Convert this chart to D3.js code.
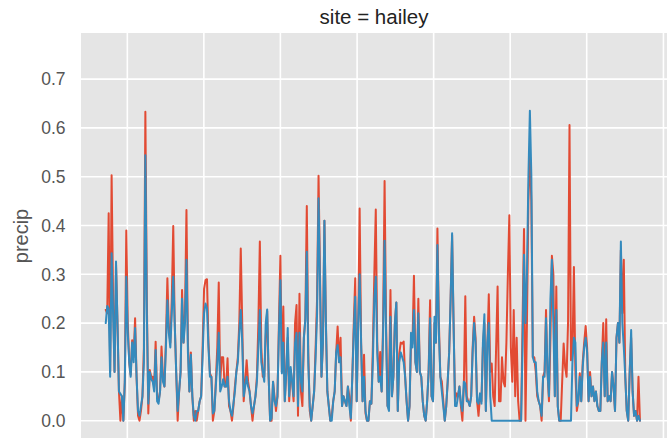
<!DOCTYPE html>
<html>
<head>
<meta charset="utf-8">
<script src="https://cdn.jsdelivr.net/npm/d3@7"></script>
<style>
  html, body { margin: 0; padding: 0; background: #ffffff; overflow: hidden; }
  svg { display: block; }
</style>
</head>
<body>
<svg id="chart" width="667" height="438"></svg>
<script>
// Weekly precipitation at the "hailey" site, two series.
const titleText = "site = hailey";
const yLabelText = "precip";
const firstWeek = new Date(2009, 8, 20);
const weekStepDays = 7;
const yTickValues = [0.0, 0.1, 0.2, 0.3, 0.4, 0.5, 0.6, 0.7];

const precipA = [
  0.227,0.220,0.425,0.100,0.503,0.250,0.100,0.320,0.200,0.060,
  0.000,0.050,0.000,0.080,0.390,0.200,0.120,0.094,0.165,0.130,
  0.210,0.090,0.010,0.000,0.020,0.050,0.150,0.633,0.250,0.015,
  0.104,0.090,0.090,0.070,0.162,0.050,0.040,0.060,0.152,0.090,
  0.070,0.165,0.292,0.190,0.160,0.250,0.399,0.200,0.100,0.000,
  0.060,0.100,0.268,0.160,0.220,0.432,0.160,0.060,0.140,0.050,
  0.000,0.020,0.000,0.020,0.040,0.050,0.150,0.270,0.288,0.290,
  0.160,0.097,0.090,0.000,0.020,0.080,0.150,0.283,0.080,0.130,
  0.130,0.070,0.070,0.128,0.030,0.020,0.000,0.030,0.070,0.100,
  0.130,0.200,0.353,0.200,0.040,0.080,0.124,0.080,0.060,0.030,
  0.000,0.030,0.050,0.090,0.200,0.367,0.150,0.090,0.090,0.170,
  0.225,0.090,0.000,0.000,0.080,0.050,0.020,0.050,0.200,0.338,
  0.100,0.234,0.040,0.100,0.170,0.040,0.104,0.080,0.040,0.200,
  0.237,0.010,0.260,0.060,0.030,0.170,0.210,0.440,0.140,0.020,
  0.000,0.030,0.060,0.150,0.250,0.502,0.300,0.090,0.160,0.410,
  0.200,0.060,0.030,0.000,0.010,0.040,0.060,0.140,0.193,0.120,
  0.170,0.030,0.050,0.040,0.030,0.070,0.050,0.000,0.090,0.200,
  0.292,0.040,0.200,0.435,0.160,0.040,0.135,0.015,0.000,0.000,
  0.040,0.035,0.150,0.300,0.433,0.160,0.080,0.141,0.060,0.200,
  0.491,0.200,0.030,0.077,0.268,0.050,0.090,0.200,0.242,0.020,
  0.138,0.160,0.158,0.162,0.090,0.040,0.000,0.030,0.160,0.158,
  0.297,0.120,0.100,0.250,0.100,0.090,0.040,0.010,0.000,0.040,
  0.100,0.247,0.050,0.040,0.200,0.160,0.394,0.200,0.090,0.080,
  0.040,0.000,0.030,0.080,0.140,0.250,0.380,0.200,0.040,0.056,
  0.050,0.070,0.030,0.000,0.070,0.255,0.050,0.040,0.030,0.050,
  0.150,0.213,0.170,0.040,0.010,0.050,0.040,0.150,0.200,0.020,
  0.150,0.259,0.100,0.117,0.050,0.030,0.150,0.275,0.040,0.040,
  0.130,0.080,0.070,0.160,0.300,0.421,0.150,0.080,0.227,0.050,
  0.170,0.040,0.000,0.000,0.200,0.393,0.000,0.200,0.450,0.550,
  0.450,0.130,0.130,0.100,0.050,0.040,0.030,0.000,0.090,0.100,
  0.227,0.100,0.040,0.170,0.338,0.300,0.050,0.275,0.030,0.000,
  0.000,0.080,0.158,0.110,0.090,0.200,0.606,0.124,0.140,0.315,
  0.100,0.020,0.040,0.097,0.040,0.120,0.160,0.194,0.150,0.040,
  0.100,0.050,0.070,0.040,0.060,0.030,0.020,0.020,0.120,0.200,
  0.050,0.208,0.040,0.050,0.040,0.100,0.070,0.020,0.170,0.200,
  0.160,0.350,0.220,0.330,0.090,0.020,0.000,0.100,0.170,0.060,
  0.010,0.020,0.000,0.090,0.000
];

const precipB = [
  0.200,0.235,0.230,0.090,0.343,0.220,0.100,0.326,0.200,0.060,
  0.055,0.050,0.000,0.080,0.295,0.180,0.120,0.090,0.160,0.120,
  0.190,0.090,0.020,0.010,0.030,0.050,0.120,0.544,0.220,0.035,
  0.100,0.085,0.080,0.060,0.145,0.040,0.035,0.060,0.130,0.080,
  0.070,0.150,0.247,0.180,0.150,0.220,0.295,0.200,0.100,0.020,
  0.060,0.100,0.250,0.160,0.200,0.330,0.140,0.060,0.135,0.050,
  0.010,0.000,0.020,0.020,0.040,0.050,0.130,0.220,0.240,0.230,
  0.150,0.090,0.090,0.015,0.020,0.070,0.120,0.180,0.060,0.070,
  0.085,0.070,0.070,0.090,0.040,0.020,0.010,0.035,0.060,0.100,
  0.120,0.180,0.227,0.160,0.050,0.070,0.090,0.070,0.060,0.030,
  0.015,0.030,0.050,0.080,0.150,0.227,0.120,0.100,0.080,0.200,
  0.228,0.090,0.000,0.005,0.080,0.040,0.030,0.050,0.180,0.288,
  0.097,0.160,0.040,0.100,0.190,0.050,0.110,0.080,0.050,0.160,
  0.180,0.030,0.180,0.080,0.060,0.170,0.206,0.346,0.120,0.030,
  0.000,0.030,0.060,0.130,0.220,0.456,0.280,0.090,0.160,0.410,
  0.200,0.060,0.030,0.000,0.000,0.040,0.060,0.140,0.155,0.120,
  0.130,0.030,0.050,0.040,0.030,0.070,0.030,0.005,0.090,0.180,
  0.254,0.040,0.200,0.300,0.160,0.040,0.090,0.020,0.000,0.000,
  0.040,0.035,0.120,0.250,0.295,0.140,0.080,0.090,0.060,0.180,
  0.369,0.180,0.030,0.020,0.213,0.050,0.090,0.200,0.242,0.020,
  0.120,0.140,0.130,0.120,0.090,0.040,0.000,0.030,0.180,0.150,
  0.227,0.120,0.100,0.220,0.100,0.090,0.040,0.010,0.000,0.040,
  0.100,0.210,0.050,0.040,0.213,0.160,0.360,0.180,0.090,0.060,
  0.030,0.000,0.030,0.080,0.140,0.250,0.384,0.200,0.030,0.030,
  0.050,0.070,0.035,0.020,0.080,0.076,0.040,0.040,0.030,0.050,
  0.140,0.200,0.160,0.040,0.035,0.056,0.035,0.160,0.218,0.020,
  0.160,0.200,0.050,0.000,0.000,0.000,0.000,0.000,0.000,0.000,
  0.000,0.000,0.000,0.000,0.000,0.000,0.000,0.000,0.000,0.000,
  0.000,0.000,0.000,0.000,0.150,0.340,0.200,0.300,0.500,0.635,
  0.500,0.130,0.120,0.120,0.060,0.040,0.030,0.010,0.090,0.090,
  0.210,0.100,0.050,0.250,0.330,0.200,0.050,0.227,0.030,0.000,
  0.000,0.000,0.000,0.000,0.000,0.000,0.000,0.000,0.120,0.170,
  0.160,0.030,0.040,0.090,0.040,0.110,0.150,0.170,0.140,0.040,
  0.090,0.050,0.070,0.040,0.060,0.030,0.020,0.020,0.120,0.160,
  0.050,0.160,0.040,0.050,0.040,0.100,0.070,0.020,0.170,0.200,
  0.160,0.367,0.200,0.150,0.090,0.020,0.000,0.100,0.186,0.060,
  0.010,0.020,0.000,0.010,0.000
];

const seriesColors = ["#E24A33", "#348ABD"];

const svg = d3.select("#chart");
const plot = { left: 81, right: 667, top: 33, bottom: 439 };
const fontFamily = "'Liberation Sans', Arial, sans-serif";

const weeks = precipA.map((_, i) => d3.timeDay.offset(firstWeek, i * weekStepDays));

const x = d3.scaleTime()
  .domain([new Date(2009, 4, 25), new Date(2017, 0, 18)])
  .range([plot.left, plot.right]);

const y = d3.scaleLinear()
  .domain([-0.0375, 0.7945])
  .range([plot.bottom, plot.top]);

// panel background
svg.append("rect")
  .attr("x", plot.left).attr("y", plot.top)
  .attr("width", plot.right - plot.left)
  .attr("height", plot.bottom - plot.top)
  .attr("fill", "#E5E5E5");

// grid
const grid = svg.append("g").attr("stroke", "#ffffff").attr("stroke-width", 1.6);
grid.selectAll("line.h").data(yTickValues).join("line")
  .attr("class", "h")
  .attr("x1", plot.left).attr("x2", plot.right)
  .attr("y1", d => y(d)).attr("y2", d => y(d));
grid.selectAll("line.v").data(x.ticks(d3.timeYear.every(1))).join("line")
  .attr("class", "v")
  .attr("y1", plot.top).attr("y2", plot.bottom)
  .attr("x1", d => x(d)).attr("x2", d => x(d));

// y tick labels
const fmt = d3.format(".1f");
svg.append("g")
  .attr("font-family", fontFamily)
  .attr("font-size", 17.5)
  .attr("fill", "#555555")
  .selectAll("text").data(yTickValues).join("text")
  .attr("x", 65.5)
  .attr("y", d => y(d))
  .attr("dy", "0.36em")
  .attr("text-anchor", "end")
  .text(d => fmt(d));

// clip for the series
svg.append("clipPath").attr("id", "plotClip")
  .append("rect")
  .attr("x", plot.left).attr("y", plot.top)
  .attr("width", plot.right - plot.left)
  .attr("height", plot.bottom - plot.top);

const line = d3.line()
  .x((d, i) => x(weeks[i]))
  .y(d => y(d));

const series = [precipA, precipB];
svg.append("g").attr("clip-path", "url(#plotClip)")
  .selectAll("path").data(series).join("path")
  .attr("d", d => line(d))
  .attr("fill", "none")
  .attr("stroke", (d, i) => seriesColors[i])
  .attr("stroke-width", 2)
  .attr("stroke-linejoin", "round")
  .attr("stroke-linecap", "round");

// title
svg.append("text")
  .attr("x", (plot.left + plot.right) / 2)
  .attr("y", 24)
  .attr("text-anchor", "middle")
  .attr("font-family", fontFamily)
  .attr("font-size", 20.5)
  .attr("fill", "#222222")
  .text(titleText);

// y axis label
svg.append("text")
  .attr("transform", `translate(28, ${(plot.top + plot.bottom) / 2}) rotate(-90)`)
  .attr("text-anchor", "middle")
  .attr("font-family", fontFamily)
  .attr("font-size", 20)
  .attr("fill", "#555555")
  .text(yLabelText);
</script>
</body>
</html>
